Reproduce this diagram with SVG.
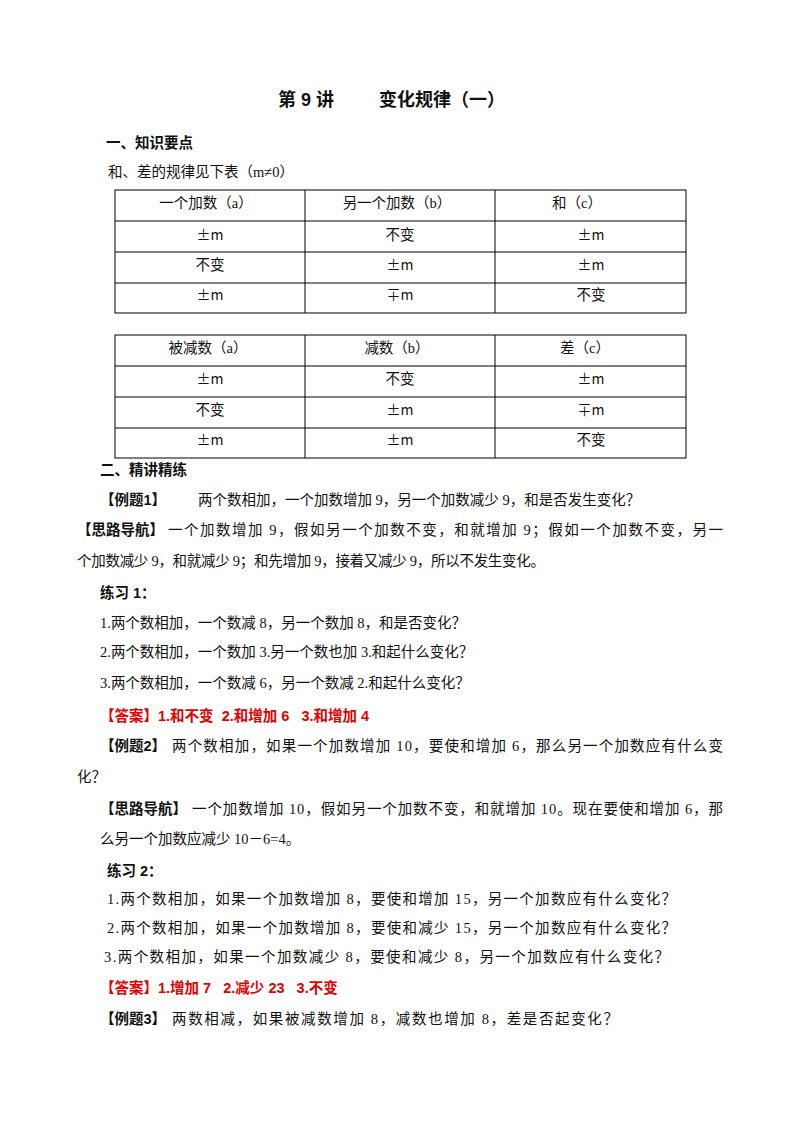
<svg xmlns="http://www.w3.org/2000/svg" width="800" height="1132" viewBox="0 0 800 1132">
<style>
text{font-family:"Liberation Serif","Noto Sans CJK SC",serif;font-size:14.5px;fill:#111}
.b{font-weight:bold;font-family:"Liberation Sans","Noto Sans CJK SC",sans-serif}
.r{fill:#e00000}
.c{text-anchor:middle}
.m{font-family:"Noto Sans CJK SC",sans-serif;font-size:14px}
.t{font-size:18px}
line{stroke:#000;stroke-width:1}
</style>
<rect width="800" height="1132" fill="#fff"/>
<text class="b t" x="278" y="106">第 9 讲</text>
<text class="b t" x="379" y="106">变化规律（一）</text>
<text class="b" x="106" y="148">一、知识要点</text>
<text x="108" y="177">和、差的规律见下表（m≠0）</text>
<g id="table1">
<rect x="115" y="190" width="571" height="123" fill="none" stroke="#000"/>
<line x1="115" y1="221" x2="686" y2="221"/><line x1="115" y1="252" x2="686" y2="252"/><line x1="115" y1="283" x2="686" y2="283"/>
<line x1="305" y1="190" x2="305" y2="313"/><line x1="495" y1="190" x2="495" y2="313"/>
<text class="c" x="206" y="208">一个加数（a）</text><text class="c" x="397" y="208">另一个加数（b）</text><text class="c" x="577" y="208">和（c）</text>
<text class="c m" x="210" y="240">±m</text><text class="c" x="400" y="240">不变</text><text class="c m" x="591" y="240">±m</text>
<text class="c" x="210" y="270">不变</text><text class="c m" x="400" y="270">±m</text><text class="c m" x="591" y="270">±m</text>
<text class="c m" x="210" y="300">±m</text><text class="c m" x="400" y="300">∓m</text><text class="c" x="591" y="300">不变</text>
</g>
<g id="table2">
<rect x="115" y="335" width="571" height="123" fill="none" stroke="#000"/>
<line x1="115" y1="366" x2="686" y2="366"/><line x1="115" y1="397" x2="686" y2="397"/><line x1="115" y1="428" x2="686" y2="428"/>
<line x1="305" y1="335" x2="305" y2="458"/><line x1="495" y1="335" x2="495" y2="458"/>
<text class="c" x="208" y="353">被减数（a）</text><text class="c" x="397" y="353">减数（b）</text><text class="c" x="585" y="353">差（c）</text>
<text class="c m" x="210" y="384">±m</text><text class="c" x="400" y="384">不变</text><text class="c m" x="591" y="384">±m</text>
<text class="c" x="210" y="415">不变</text><text class="c m" x="400" y="415">±m</text><text class="c m" x="591" y="415">∓m</text>
<text class="c m" x="210" y="445">±m</text><text class="c m" x="400" y="445">±m</text><text class="c" x="591" y="445">不变</text>
</g>
<text class="b" x="100" y="475">二、精讲精练</text>
<text class="b" x="100" y="505">【例题1】</text>
<text x="198" y="505">两个数相加，一个加数增加 9，另一个加数减少 9，和是否发生变化？</text>
<text class="b" x="77" y="535">【思路导航】</text>
<text x="168" y="535" textLength="555">一个加数增加 9，假如另一个加数不变，和就增加 9；假如一个加数不变，另一</text>
<text x="77" y="566" textLength="468">个加数减少 9，和就减少 9；和先增加 9，接着又减少 9，所以不发生变化。</text>
<text class="b" x="100" y="598">练习 1：</text>
<text x="100" y="628">1.两个数相加，一个数减 8，另一个数加 8，和是否变化？</text>
<text x="100" y="657">2.两个数相加，一个数加 3.另一个数也加 3.和起什么变化？</text>
<text x="100" y="688">3.两个数相加，一个数减 6，另一个数减 2.和起什么变化？</text>
<text class="b r" x="100" y="721" xml:space="preserve">【答案】1.和不变  2.和增加 6   3.和增加 4</text>
<text class="b" x="100" y="751">【例题2】</text>
<text x="172" y="751" textLength="551">两个数相加，如果一个加数增加 10，要使和增加 6，那么另一个加数应有什么变</text>
<text x="77" y="782">化？</text>
<text class="b" x="100" y="814">【思路导航】</text>
<text x="192" y="814" textLength="531">一个加数增加 10，假如另一个加数不变，和就增加 10。现在要使和增加 6，那</text>
<text x="100" y="844">么另一个加数应减少 10－6=4。</text>
<text class="b" x="107" y="876">练习 2：</text>
<text x="107" y="904" textLength="569">1.两个数相加，如果一个加数增加 8，要使和增加 15，另一个加数应有什么变化？</text>
<text x="107" y="933" textLength="569">2.两个数相加，如果一个加数增加 8，要使和减少 15，另一个加数应有什么变化？</text>
<text x="104" y="962" textLength="565">3.两个数相加，如果一个加数减少 8，要使和减少 8，另一个加数应有什么变化？</text>
<text class="b r" x="100" y="993" xml:space="preserve">【答案】1.增加 7   2.减少 23   3.不变</text>
<text class="b" x="100" y="1024">【例题3】</text>
<text x="172" y="1024" textLength="446">两数相减，如果被减数增加 8，减数也增加 8，差是否起变化？</text>
</svg>
